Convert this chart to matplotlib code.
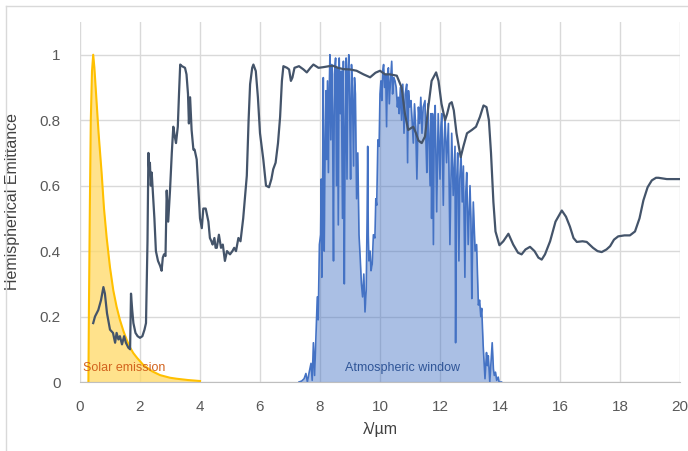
import matplotlib.pyplot as plt
from matplotlib.lines import Line2D

plt.rcParams['font.family'] = ['Liberation Sans', 'DejaVu Sans']

# hemispherical emittance of the sample
em_x = [0.44, 0.5, 0.61, 0.7, 0.78, 0.83, 0.9, 1.0, 1.1, 1.17, 1.22, 1.28, 1.33, 1.4, 1.47, 1.53,
        1.61, 1.67, 1.7, 1.74, 1.78, 1.85, 1.92, 2.0, 2.08, 2.15, 2.2, 2.25, 2.28, 2.31, 2.33, 2.36,
        2.39, 2.44, 2.48, 2.53, 2.6, 2.67, 2.72, 2.76, 2.8, 2.85, 2.89, 2.94, 3.0, 3.06, 3.11, 3.16,
        3.2, 3.26, 3.3, 3.34, 3.4, 3.5, 3.55, 3.6, 3.63, 3.67, 3.72, 3.78, 3.82, 3.89, 3.95, 4.0,
        4.06, 4.11, 4.19, 4.28, 4.33, 4.38, 4.42, 4.48, 4.52, 4.56, 4.63, 4.7, 4.76, 4.83, 4.9, 5.0,
        5.08, 5.14, 5.2, 5.28, 5.35, 5.44, 5.56, 5.62, 5.67, 5.74, 5.78, 5.86, 5.93, 6.0, 6.11, 6.2,
        6.3, 6.38, 6.44, 6.52, 6.6, 6.67, 6.73, 6.78, 6.9, 6.97, 7.03, 7.08, 7.15, 7.3, 7.45, 7.56,
        7.68, 7.78, 7.95, 8.11, 8.3, 8.44, 8.6, 8.78, 9.0, 9.22, 9.45, 9.67, 9.85, 10.0, 10.17, 10.33,
        10.56, 10.72, 10.83, 10.94, 11.02, 11.11, 11.2, 11.28, 11.39, 11.5, 11.61, 11.72, 11.87, 11.95,
        12.05, 12.17, 12.24, 12.32, 12.39, 12.46, 12.55, 12.69, 12.78, 12.9, 13.06, 13.2, 13.33, 13.45,
        13.55, 13.63, 13.7, 13.78, 13.85, 13.98, 14.11, 14.28, 14.44, 14.6, 14.72, 14.85, 15.0, 15.15,
        15.28, 15.39, 15.5, 15.67, 15.85, 16.06, 16.2, 16.33, 16.45, 16.56, 16.75, 16.89, 17.1, 17.25,
        17.39, 17.55, 17.67, 17.8, 17.94, 18.15, 18.33, 18.5, 18.65, 18.78, 18.92, 19.06, 19.2, 19.28,
        19.56, 20.0]
em_y = [0.18, 0.2, 0.22, 0.25, 0.29, 0.27, 0.21, 0.16, 0.15, 0.12, 0.15, 0.13, 0.14, 0.115, 0.14, 0.12,
        0.105, 0.1, 0.27, 0.22, 0.18, 0.15, 0.14, 0.135, 0.14, 0.16, 0.18, 0.43, 0.7, 0.64, 0.67, 0.6,
        0.64, 0.565, 0.5, 0.4, 0.37, 0.355, 0.34, 0.38, 0.39, 0.385, 0.585, 0.49, 0.585, 0.7, 0.78, 0.75,
        0.73, 0.78, 0.88, 0.97, 0.965, 0.96, 0.94, 0.88, 0.79, 0.87, 0.77, 0.71, 0.71, 0.68, 0.58, 0.5,
        0.47, 0.53, 0.53, 0.49, 0.44, 0.43, 0.42, 0.44, 0.41, 0.41, 0.45, 0.41, 0.42, 0.37, 0.4, 0.39,
        0.4, 0.41, 0.4, 0.44, 0.43, 0.5, 0.63, 0.8, 0.91, 0.96, 0.97, 0.95, 0.87, 0.76, 0.68, 0.6,
        0.595, 0.62, 0.65, 0.67, 0.73, 0.81, 0.92, 0.965, 0.96, 0.955, 0.92, 0.93, 0.96, 0.965, 0.955, 0.946,
        0.96, 0.97, 0.96, 0.962, 0.965, 0.966, 0.96, 0.956, 0.955, 0.951, 0.94, 0.931, 0.945, 0.951, 0.94, 0.94,
        0.936, 0.9, 0.82, 0.77, 0.775, 0.78, 0.76, 0.738, 0.73, 0.75, 0.84, 0.92, 0.946, 0.92,
        0.85, 0.8, 0.82, 0.85, 0.855, 0.83, 0.76, 0.687, 0.72, 0.76, 0.77, 0.78, 0.81, 0.845,
        0.84, 0.8, 0.7, 0.55, 0.46, 0.418, 0.43, 0.453, 0.42, 0.395, 0.39, 0.405, 0.413, 0.4,
        0.38, 0.374, 0.39, 0.43, 0.49, 0.524, 0.505, 0.475, 0.44, 0.428, 0.43, 0.428, 0.41, 0.4,
        0.397, 0.405, 0.415, 0.435, 0.445, 0.448, 0.448, 0.46, 0.5, 0.555, 0.595, 0.616, 0.624, 0.624,
        0.62, 0.62]

# normalised solar spectrum
sun_x = [0.28, 0.3, 0.33, 0.36, 0.4, 0.44, 0.48, 0.55, 0.62, 0.72, 0.8, 0.89, 1.0, 1.11, 1.22, 1.33,
         1.45, 1.56, 1.67, 1.78, 1.9, 2.11, 2.4, 2.67, 3.0, 3.22, 3.6, 4.0]
sun_y = [0.0, 0.25, 0.55, 0.8, 0.95, 1.0, 0.96, 0.86, 0.76, 0.64, 0.53, 0.44, 0.35, 0.28, 0.23, 0.19,
         0.155, 0.128, 0.105, 0.088, 0.074, 0.052, 0.033, 0.021, 0.013, 0.01, 0.006, 0.003]

# atmospheric transmittance
atm_x = [7.3, 7.39, 7.47, 7.53, 7.58, 7.64, 7.7, 7.74, 7.78, 7.82, 7.87, 7.91, 7.94, 7.98, 8.02, 8.04,
         8.06, 8.09, 8.11, 8.14, 8.17, 8.2, 8.22, 8.25, 8.28, 8.31, 8.33, 8.36, 8.39, 8.42, 8.45, 8.48,
         8.52, 8.55, 8.58, 8.61, 8.64, 8.68, 8.71, 8.75, 8.78, 8.81, 8.84, 8.87, 8.9, 8.93, 8.96, 8.99,
         9.02, 9.05, 9.08, 9.12, 9.15, 9.18, 9.22, 9.26, 9.3, 9.34, 9.38, 9.42, 9.46, 9.5, 9.54, 9.57,
         9.59, 9.61, 9.63, 9.67, 9.7, 9.74, 9.78, 9.83, 9.86, 9.89, 9.93, 9.97, 10.0, 10.03, 10.06, 10.09,
         10.12, 10.15, 10.19, 10.22, 10.25, 10.28, 10.31, 10.35, 10.39, 10.42, 10.46, 10.5, 10.54, 10.58,
         10.61, 10.64, 10.68, 10.72, 10.76, 10.8, 10.84, 10.89, 10.92, 10.95, 10.99, 11.03, 11.07, 11.11,
         11.15, 11.19, 11.23, 11.28, 11.32, 11.36, 11.4, 11.44, 11.5, 11.53, 11.56, 11.6, 11.63, 11.67,
         11.7, 11.72, 11.75, 11.78, 11.81, 11.84, 11.89, 11.94, 11.97, 12.0, 12.03, 12.06, 12.11, 12.14,
         12.17, 12.22, 12.28, 12.33, 12.39, 12.44, 12.5, 12.52, 12.55, 12.59, 12.63, 12.66, 12.7, 12.74,
         12.78, 12.83, 12.86, 12.89, 12.94, 13.0, 13.03, 13.06, 13.09, 13.11, 13.17, 13.22, 13.26, 13.28,
         13.32, 13.36, 13.39, 13.44, 13.47, 13.5, 13.55, 13.58, 13.61, 13.66, 13.7, 13.74, 13.78, 13.81,
         13.85, 13.89, 13.94, 13.97, 14.05]
atm_y = [0.0, 0.003, 0.01, 0.026, 0.0, 0.03, 0.057, 0.005, 0.12, 0.02, 0.15, 0.26, 0.19, 0.42, 0.45, 0.62,
         0.32, 0.66, 0.93, 0.4, 0.69, 0.89, 0.68, 0.92, 0.64, 0.9, 1.0, 0.74, 0.97, 0.8, 0.37, 0.94,
         0.99, 0.6, 0.96, 0.48, 0.99, 0.82, 0.95, 0.5, 0.98, 0.3, 0.74, 0.99, 0.62, 0.95, 1.0, 0.84,
         0.62, 0.97, 0.9, 0.66, 0.93, 0.88, 0.56, 0.7, 0.45, 0.38, 0.3, 0.26, 0.33, 0.214, 0.28, 0.5,
         0.72, 0.45, 0.37, 0.4, 0.34, 0.36, 0.45, 0.44, 0.56, 0.54, 0.74, 0.72, 0.88, 0.92, 0.86, 0.95,
         0.97, 0.9, 0.94, 0.78, 0.94, 0.96, 0.85, 0.92, 0.98, 0.88, 0.93, 0.92, 0.9, 0.84,
         0.87, 0.82, 0.9, 0.8, 0.91, 0.76, 0.88, 0.91, 0.67, 0.89, 0.84, 0.86, 0.8, 0.73,
         0.85, 0.78, 0.62, 0.84, 0.79, 0.87, 0.76, 0.84, 0.86, 0.74, 0.64, 0.85, 0.76, 0.6,
         0.82, 0.5, 0.82, 0.42, 0.8, 0.845, 0.52, 0.82, 0.72, 0.62, 0.78, 0.82, 0.54, 0.74,
         0.8, 0.67, 0.79, 0.42, 0.76, 0.57, 0.72, 0.12, 0.6, 0.7, 0.37, 0.62, 0.7, 0.55,
         0.66, 0.32, 0.58, 0.64, 0.42, 0.6, 0.5, 0.255, 0.45, 0.55, 0.4, 0.42, 0.3, 0.235,
         0.25, 0.2, 0.225, 0.11, 0.06, 0.01, 0.09, 0.05, 0.08, 0.0, 0.06, 0.12, 0.04, 0.02,
         0.03, 0.005, 0.015, 0.0, 0.0]

fig = plt.figure(figsize=(6.88, 4.51), dpi=100)
ax = fig.add_axes([80/688, 69/451, 600/688, 360/451])

ax.fill_between(atm_x, atm_y, color='#4472C4', alpha=0.45, lw=0)
ax.plot(atm_x, atm_y, color='#4472C4', lw=1.2, clip_on=False)
ax.fill_between(sun_x, sun_y, color='#FFD966', alpha=0.75, lw=0)
ax.plot(sun_x, sun_y, color='#FFC000', lw=1.5, clip_on=False)
ax.plot(em_x, em_y, color='#44546A', lw=1.6)

ax.text(0.1, 0.043, 'Solar emission', color='#D2631E', fontsize=9, va='center')
ax.text(10.75, 0.043, 'Atmospheric window', color='#2F5597', fontsize=9, va='center', ha='center')

ax.set_xlim(0, 20)
ax.set_ylim(0, 1.1)
ax.set_xticks(range(0, 21, 2))
ax.set_yticks([0, 0.2, 0.4, 0.6, 0.8, 1])
ax.set_yticklabels(['0', '0.2', '0.4', '0.6', '0.8', '1'])
ax.grid(True, color='#D9D9D9', lw=1)
ax.set_axisbelow(True)
for s in ['top', 'right', 'left']:
    ax.spines[s].set_visible(False)
ax.spines['bottom'].set_color('#BFBFBF')
ax.tick_params(length=0, labelsize=11, labelcolor='#595959')
ax.tick_params(axis='y', pad=14)
ax.tick_params(axis='x', pad=13)
ax.set_xlabel('λ/µm', fontsize=11.5, color='#404040', labelpad=6)
ax.set_ylabel('Hemispherical Emittance', fontsize=11.5, color='#404040', labelpad=14)

# chart border
fig.add_artist(Line2D([6/688, 6/688], [0, 1 - 6/451], color='#D9D9D9', lw=1))
fig.add_artist(Line2D([6/688, 1], [1 - 6/451, 1 - 6/451], color='#D9D9D9', lw=1))

fig.savefig('out.png', dpi=100)
